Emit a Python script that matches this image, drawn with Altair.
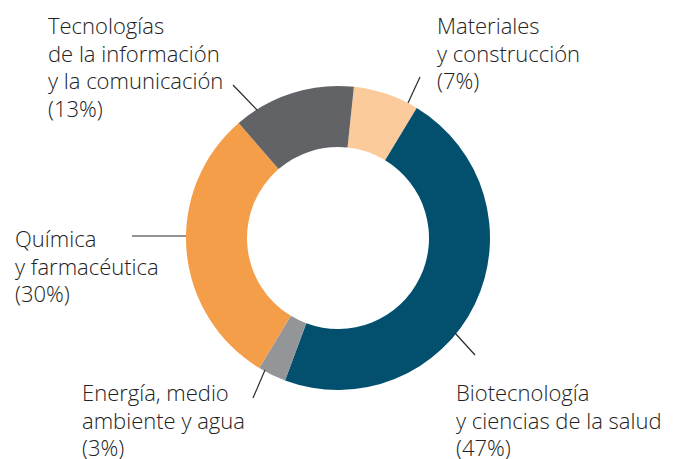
import math
import altair as alt
import pandas as pd

# ---- data ----
categories = [
    "Materiales y construcción",
    "Biotecnología y ciencias de la salud",
    "Energía, medio ambiente y agua",
    "Química y farmacéutica",
    "Tecnologías de la información y la comunicación",
]
shares = [7, 47, 3, 30, 13]
label_texts = [
    "Materiales\ny construcción\n(7%)",
    "Biotecnología\ny ciencias de la salud\n(47%)",
    "Energía, medio\nambiente y agua\n(3%)",
    "Química\ny farmacéutica\n(30%)",
    "Tecnologías\nde la información\ny la comunicación\n(13%)",
]
colors = ["#FCCB9B", "#02506E", "#939598", "#F59E4A", "#626366"]

# ---- layout (pixels, chart coordinates) ----
W, H = 662, 451
CX, CY = 330, 230
R_OUT, R_IN = 152, 91
START = math.radians(6)

label_pos = [(429, 26), (448, 393), (74, 393), (7, 239), (40, 26)]
leader = [
    ((412, 69), (400, 95)),
    ((447, 325), (467, 347)),
    ((257, 362), (245, 390)),
    ((124, 228), (178, 228)),
    ((225, 77), (249, 102)),
]

df = pd.DataFrame({"cat": categories, "value": shares, "order": list(range(len(categories)))})
lab = pd.DataFrame({
    "text": label_texts,
    "x": [p[0] for p in label_pos],
    "y": [p[1] for p in label_pos],
})
lines = pd.DataFrame({
    "x": [l[0][0] for l in leader],
    "y": [l[0][1] for l in leader],
    "x2": [l[1][0] for l in leader],
    "y2": [l[1][1] for l in leader],
})

arc = alt.Chart(df).mark_arc(outerRadius=R_OUT, innerRadius=R_IN).encode(
    theta=alt.Theta("value:Q", stack=True,
                    scale=alt.Scale(range=[START, START + 2 * math.pi])),
    order=alt.Order("order:Q"),
    color=alt.Color("cat:N", scale=alt.Scale(domain=categories, range=colors), legend=None),
    x=alt.value(CX),
    y=alt.value(CY),
)

text = alt.Chart(lab).mark_text(
    align="left", baseline="alphabetic", font="Open Sans", fontSize=22,
    fontWeight=300, lineBreak="\n", lineHeight=27.5, color="#222222",
).encode(
    x=alt.X("x:Q", scale=None),
    y=alt.Y("y:Q", scale=None),
    text="text:N",
)

rules = alt.Chart(lines).mark_rule(color="#2a2a2a", strokeWidth=1.2).encode(
    x=alt.X("x:Q", scale=None),
    y=alt.Y("y:Q", scale=None),
    x2="x2:Q",
    y2="y2:Q",
)

chart = alt.layer(arc, rules, text).properties(
    width=W, height=H, padding=0, autosize="none"
).configure_view(stroke=None)

chart.save("out.html", embed_options={"renderer": "svg", "actions": False})
